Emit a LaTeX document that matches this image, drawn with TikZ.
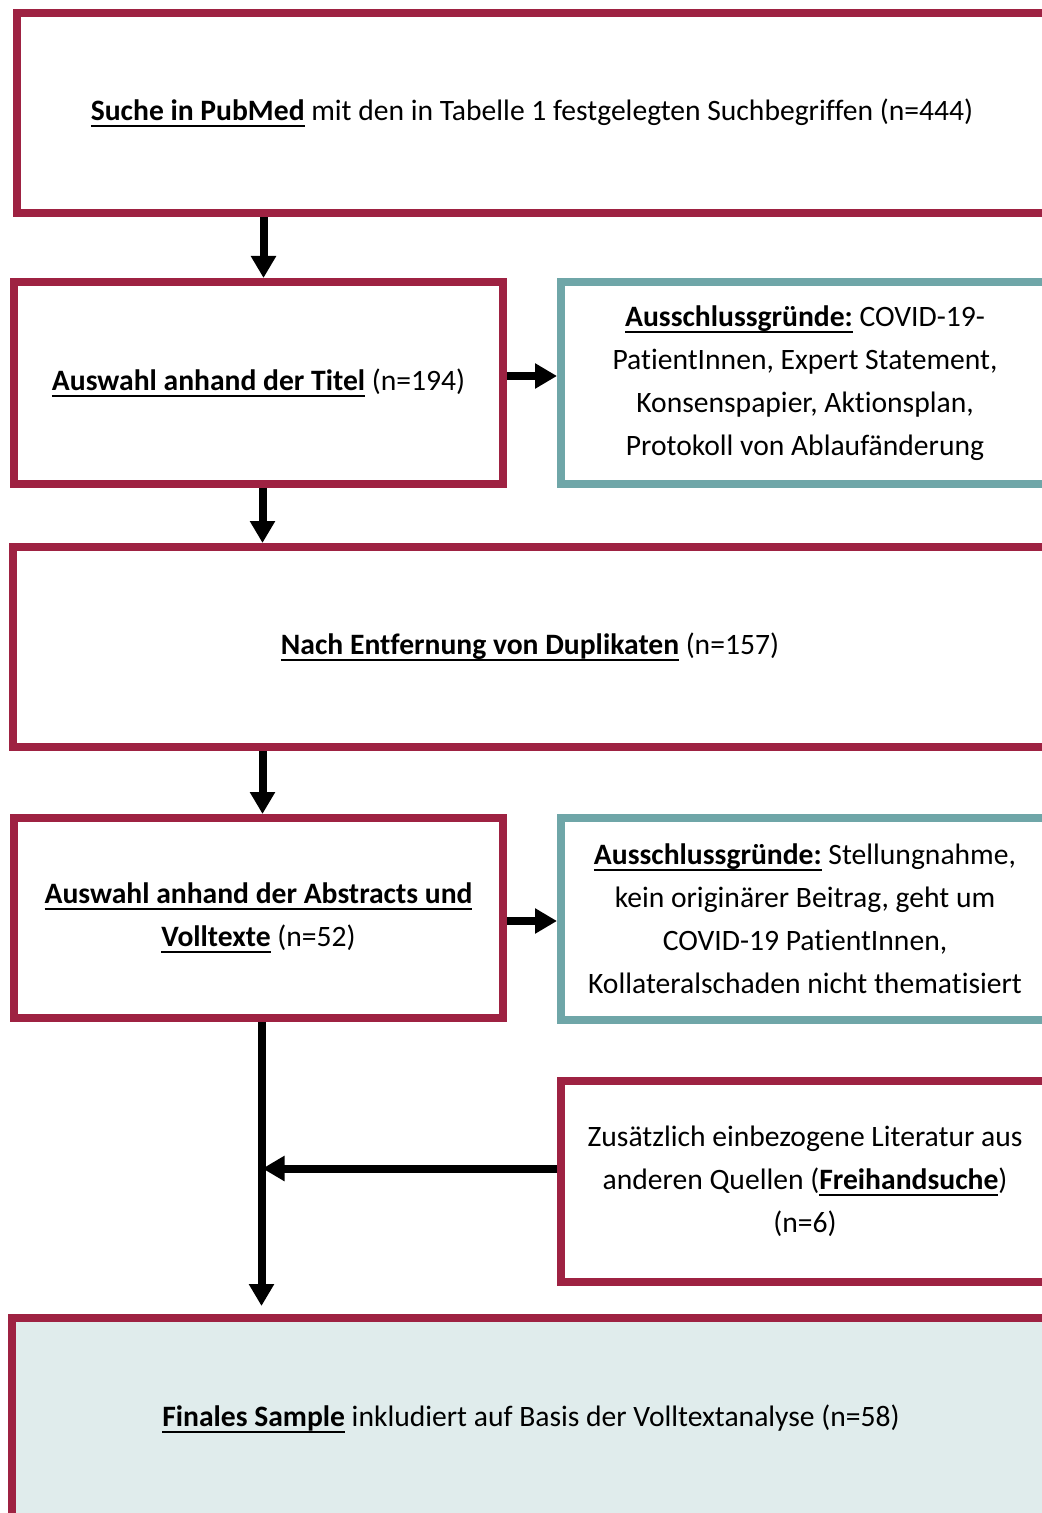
\documentclass[tikz,border=0pt]{standalone}
\usepackage{fontspec}
\setmainfont{Carlito}[Ligatures=NoCommon]
\usetikzlibrary{arrows.meta,positioning,calc}
\definecolor{weinrot}{RGB}{158,34,66}
\definecolor{petrol}{RGB}{111,166,168}
\definecolor{hellpetrol}{RGB}{224,236,236}
\newcommand{\ubf}[1]{\setbox0\hbox{\textbf{#1}}\rlap{\rule[-3.2pt]{\wd0}{1.1pt}}\box0\relax}
\tikzset{
  stepbox/.style={draw=weinrot, line width=4pt, align=center, inner sep=0pt, fill=white, font=\fontsize{14.8}{21.5}\selectfont},
  exclbox/.style={draw=petrol, line width=4pt, align=center, inner sep=0pt, fill=white, font=\fontsize{14.8}{21.5}\selectfont},
  finalbox/.style={stepbox, fill=hellpetrol},
  arrow/.style={-{Triangle[length=11pt,width=12pt]}, line width=4pt}
}
\begin{document}
\begin{tikzpicture}[x=0.5pt,y=-0.5pt]
  \useasboundingbox (0,0) rectangle (1042,1513);
  \clip (0,0) rectangle (1042,1513);
  \node[stepbox, minimum width=515pt, minimum height=100pt] (suche) at (532,113)
    {\ubf{Suche in PubMed} mit den in Tabelle 1 festgelegten Suchbegriffen (n=444)};
  \node[stepbox, minimum width=244.5pt, minimum height=101pt] (titel) at (258.5,383)
    {\ubf{Auswahl anhand der Titel} (n=194)};
  \node[exclbox, minimum width=244pt, minimum height=101pt] (aus1) at (805,383)
    {\ubf{Ausschlussgründe:} COVID-19-\\PatientInnen, Expert Statement,\\Konsenspapier, Aktionsplan,\\Protokoll von Ablaufänderung};
  \node[stepbox, minimum width=517pt, minimum height=100pt] (dupl) at (530,647)
    {\ubf{Nach Entfernung von Duplikaten} (n=157)};
  \node[stepbox, minimum width=244.5pt, minimum height=100pt] (abstr) at (258.5,918)
    {\ubf{Auswahl anhand der Abstracts und}\\\ubf{Volltexte} (n=52)};
  \node[exclbox, minimum width=244pt, minimum height=101pt] (aus2) at (805,919)
    {\ubf{Ausschlussgründe:} Stellungnahme,\\kein originärer Beitrag, geht um\\COVID-19 PatientInnen,\\Kollateralschaden nicht thematisiert};
  \node[stepbox, minimum width=244pt, minimum height=100.5pt] (frei) at (805,1181.5)
    {Zusätzlich einbezogene Literatur aus\\anderen Quellen (\ubf{Freihandsuche})\\(n=6)};
  \node[finalbox, minimum width=519pt, minimum height=101pt] (final) at (531,1419)
    {\ubf{Finales Sample} inkludiert auf Basis der Volltextanalyse (n=58)};

  \draw[arrow] ([xshift=2.5pt]titel.north |- suche.south) -- ([xshift=2.5pt]titel.north);
  \draw[arrow] ([yshift=3.5pt]titel.east) -- ([yshift=3.5pt]aus1.west);
  \draw[arrow] ([xshift=2pt]titel.south) -- ([xshift=2pt]titel.south |- dupl.north);
  \draw[arrow] ([xshift=2pt]abstr.north |- dupl.south) -- ([xshift=2pt]abstr.north);
  \draw[arrow] ([yshift=-1.5pt]abstr.east) -- ([yshift=-1.5pt]abstr.east -| aus2.west);
  \draw[arrow, shorten >=4pt] ([xshift=1.5pt]abstr.south) -- ([xshift=1.5pt]abstr.south |- final.north);
  \draw[arrow, shorten >=2pt] ([yshift=6.5pt]frei.west) -- ([yshift=6.5pt]frei.west -| abstr.south);
\end{tikzpicture}
\end{document}
